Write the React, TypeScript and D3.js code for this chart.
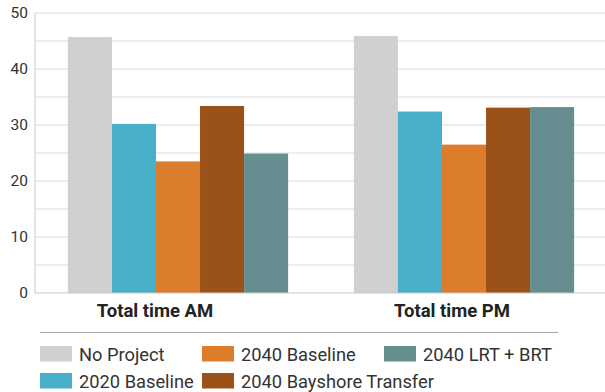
import React from "react";
import * as d3 from "d3";

const categories = ["Total time AM", "Total time PM"];
const seriesNames = ["No Project", "2020 Baseline", "2040 Baseline", "2040 Bayshore Transfer", "2040 LRT + BRT"];
const seriesColors = ["#d0d0d0", "#47afc8", "#dc7d2b", "#9a5219", "#668e90"];
const noProject = [45.7, 45.9];
const baseline2020 = [30.2, 32.4];
const baseline2040 = [23.5, 26.5];
const bayshore2040 = [33.4, 33.1];
const lrtBrt2040 = [24.9, 33.2];
const yTicks = [0, 10, 20, 30, 40, 50];
const gridTicks = [5, 10, 15, 20, 25, 30, 35, 40, 45, 50];

const seriesValues = [noProject, baseline2020, baseline2040, bayshore2040, lrtBrt2040];

// legend layout: [column, row] per series
const legendOrder = [
  { s: 0, col: 0, row: 0 },
  { s: 2, col: 1, row: 0 },
  { s: 4, col: 2, row: 0 },
  { s: 1, col: 0, row: 1 },
  { s: 3, col: 1, row: 1 },
];
const legendColX = [40, 202, 384];
const labelShift = [-23, -12];

export default function App() {
  const W = 605, H = 392;
  const left = 35, right = 607, top = 13, bottom = 293;
  const x0 = d3.scaleBand<string>().domain(categories).range([left, right]).paddingInner(0.23).paddingOuter(0.115);
  const x1 = d3.scaleBand<string>().domain(seriesNames).range([0, x0.bandwidth()]);
  const y = d3.scaleLinear().domain([0, 50]).range([bottom, top]);
  const font = "Roboto, 'DejaVu Sans', sans-serif";

  return (
    <svg width={W} height={H} style={{ position: "absolute", left: 0, top: 0, background: "#fff" }} fontFamily={font}>
      {gridTicks.map((t) => (
        <line key={"g" + t} x1={left} x2={605} y1={y(t)} y2={y(t)} stroke="#dcdcdc" strokeWidth={1} />
      ))}
      {categories.map((c, ci) => (
        <g key={c} transform={`translate(${x0(c)},0)`}>
          {seriesNames.map((s, si) => (
            <rect
              key={s}
              x={x1(s)}
              y={y(seriesValues[si][ci])}
              width={x1.bandwidth()}
              height={y(0) - y(seriesValues[si][ci])}
              fill={seriesColors[si]}
            />
          ))}
        </g>
      ))}
      <line x1={left} x2={left} y1={top} y2={bottom} stroke="#c8c8c8" strokeWidth={1} />
      <line x1={left} x2={605} y1={bottom} y2={bottom} stroke="#c8c8c8" strokeWidth={1} />
      {yTicks.map((t) => (
        <text key={"t" + t} x={28} y={y(t)} dy="0.35em" textAnchor="end" fontSize={15.5} fill="#333">
          {t}
        </text>
      ))}
      {categories.map((c, ci) => (
        <text
          key={"c" + c}
          x={(x0(c) as number) + x0.bandwidth() / 2 + labelShift[ci]}
          y={316.5}
          textAnchor="middle"
          fontSize={18.5}
          fontWeight="bold"
          fill="#222"
        >
          {c}
        </text>
      ))}
      <line x1={40} x2={558} y1={332.5} y2={332.5} stroke="#a8a8a8" strokeWidth={1} />
      {legendOrder.map(({ s, col, row }) => {
        const lx = legendColX[col];
        const ly = 346 + row * 27;
        return (
          <g key={"l" + s}>
            <rect x={lx} y={ly} width={32} height={15.5} fill={seriesColors[s]} />
            <text x={lx + 39} y={ly + 15} fontSize={18.3} fill="#333">
              {seriesNames[s]}
            </text>
          </g>
        );
      })}
    </svg>
  );
}
